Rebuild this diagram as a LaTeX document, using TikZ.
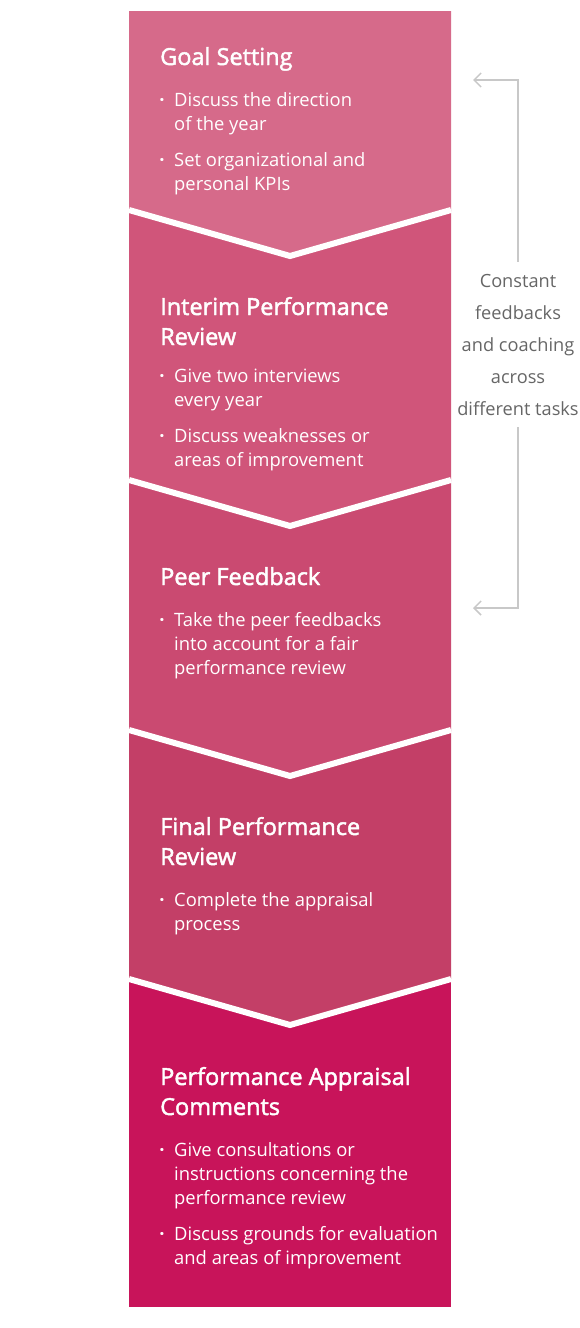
\documentclass[tikz,border=0pt]{standalone}
\usepackage{fontspec}
\setmainfont{Open Sans}
\newfontfamily\headfont[FakeBold=2]{Open Sans}
\usetikzlibrary{arrows.meta}
\definecolor{stepone}{HTML}{D66A8A}
\definecolor{steptwo}{HTML}{D0557A}
\definecolor{stepthree}{HTML}{CA4A71}
\definecolor{stepfour}{HTML}{C33F67}
\definecolor{stepfive}{HTML}{C8145A}
\definecolor{notegray}{HTML}{666666}
\definecolor{linegray}{HTML}{C8C8C8}
\newcommand{\pointtext}[1]{\begin{tabular}[t]{@{}l@{}}\llap{\textbf{·}\hspace{9.5pt}}#1\end{tabular}}
\newcommand{\headtext}[1]{\begin{tabular}[t]{@{}l@{}}#1\end{tabular}}

\begin{document}
\begin{tikzpicture}[x=1pt,y=-1pt,
          head/.style={
            anchor=base west,
            inner sep=0pt,
            text=white,
            font=\headfont\fontsize{23.5}{30}\selectfont
          },
          point/.style={
            anchor=base west,
            inner sep=0pt,
            text=white,
            font=\fontsize{18.4}{24}\selectfont
          },
          gap/.style={draw=white,line width=6pt},
          note/.style={anchor=base,inner sep=2.6pt,text=notegray,font=\fontsize{18.2}{32}\selectfont},
          fb/.style={-{Straight Barb[length=7pt,width=14pt]},draw=linegray,line width=1.5pt}
        ]
        \useasboundingbox (0,0) rectangle (580,1328);
        % stages, drawn from the bottom up
        \fill[stepfive] (129,979) rectangle (451,1307);
        \fill[stepfour] (129,730) -- (451,730) -- (451,979) -- (290,1025) -- (129,979) -- cycle;
        \fill[stepthree] (129,480) -- (451,480) -- (451,730) -- (290,776) -- (129,730) -- cycle;
        \fill[steptwo] (129,210) -- (451,210) -- (451,480) -- (290,526) -- (129,480) -- cycle;
        \fill[stepone] (129,11) -- (451,11) -- (451,210) -- (290,256) -- (129,210) -- cycle;
        \draw[gap] (129,210) -- (290,256) -- (451,210);
        \draw[gap] (129,480) -- (290,526) -- (451,480);
        \draw[gap] (129,730) -- (290,776) -- (451,730);
        \draw[gap] (129,979) -- (290,1025) -- (451,979);
        % texts
        \node[head] (goal) at (160,65) {\headtext{Goal Setting}};
        \node[point] (goalA) at (174,106) {\pointtext{Discuss the direction\\of the year}};
        \node[point] (goalB) at (174,166) {\pointtext{Set organizational and\\personal KPIs}};
        \node[head] (interim) at (160,315) {\headtext{Interim Performance\\Review}};
        \node[point] (interimA) at (174,382) {\pointtext{Give two interviews\\every year}};
        \node[point] (interimB) at (174,442) {\pointtext{Discuss weaknesses or\\areas of improvement}};
        \node[head] (peer) at (160,585) {\headtext{Peer Feedback}};
        \node[point] (peerA) at (174,626) {\pointtext{Take the peer feedbacks\\into account for a fair\\performance review}};
        \node[head] (final) at (160,835) {\headtext{Final Performance\\Review}};
        \node[point] (finalA) at (174,906) {\pointtext{Complete the appraisal\\process}};
        \node[head] (comments) at (160,1085) {\headtext{Performance Appraisal\\Comments}};
        \node[point] (commentsA) at (174,1156) {\pointtext{Give consultations or\\instructions concerning the\\performance review}};
        \node[point] (commentsB) at (174,1240) {\pointtext{Discuss grounds for evaluation\\and areas of improvement}};
        % feedback loop
        \node[note] (loop) at (518,287) {\begin{tabular}[t]{@{}c@{}}Constant\\feedbacks\\and coaching\\across\\different tasks\end{tabular}};
        \coordinate (loopin) at (473,80);
        \coordinate (loopout) at (473,608);
        \draw[fb] (loop.north) |- (loopin);
        \draw[fb] (loop.south) |- (loopout);
      \end{tikzpicture}
\end{document}
